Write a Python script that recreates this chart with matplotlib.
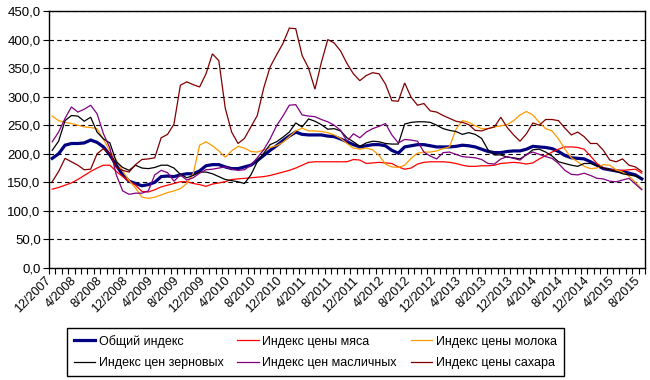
import numpy as np
import matplotlib.pyplot as plt
import matplotlib.transforms as mtransforms

plt.rcParams['font.family'] = ['Liberation Sans', 'DejaVu Sans']

# Месяцы 12/2007 ... 8/2015
months = ['12/2007'] + [f'{m}/{y}' for y in range(2008, 2016) for m in range(1, 13)]
months = months[:93]
tick_labels = months[::4]

# Индексы (2002-2004 = 100)
general = [192, 200, 215, 218, 218, 219, 224, 220, 212, 198, 180, 163, 152, 148, 144, 146,
           150, 160, 161, 160, 163, 165, 165, 170, 179, 181, 181, 177, 174, 174, 177,
           180, 188, 197, 206, 214, 223, 231, 238, 234, 233, 233, 233, 231, 230, 226, 221,
           216, 212, 214, 216, 216, 214, 206, 201, 212, 214, 216, 216, 214, 212, 212, 212,
           213, 215, 214, 212, 208, 204, 202, 202, 204, 205, 205, 208, 213, 212, 211, 209,
           204, 197, 193, 192, 191, 186, 180, 174, 172, 170, 169, 166, 163, 156]
meat = [138, 141, 145, 149, 155, 162, 169, 175, 180, 180, 169, 160, 152, 145, 134, 133,
        137, 142, 145, 148, 151, 151, 148, 146, 143, 147, 149, 151, 155, 156, 157,
        158, 159, 160, 162, 165, 168, 171, 175, 180, 185, 186, 186, 186, 186, 186, 186,
        190, 189, 183, 184, 185, 184, 183, 177, 173, 175, 182, 185, 186, 186, 186, 185,
        183, 180, 178, 178, 179, 179, 180, 183, 184, 185, 184, 182, 184, 191, 197, 203,
        208, 212, 212, 211, 208, 196, 183, 175, 172, 171, 171, 172, 173, 166]
dairy = [266, 258, 255, 253, 250, 247, 246, 244, 225, 205, 189, 170, 153, 140, 124, 122,
         124, 128, 132, 135, 139, 148, 165, 215, 221, 214, 205, 194, 205, 213, 210,
         204, 203, 207, 211, 214, 220, 230, 240, 245, 240, 240, 239, 237, 233, 227, 218,
         210, 208, 210, 207, 197, 182, 177, 176, 180, 192, 201, 203, 203, 205, 209, 212,
         243, 258, 255, 249, 244, 244, 247, 249, 251, 258, 268, 274, 268, 255, 244, 240,
         226, 208, 193, 186, 178, 174, 175, 181, 180, 172, 168, 161, 150, 138]
cereals = [206, 222, 258, 267, 266, 257, 264, 238, 226, 219, 186, 176, 171, 180, 175, 174,
           176, 180, 180, 175, 164, 158, 162, 168, 168, 165, 160, 155, 153, 151, 148,
           163, 186, 201, 216, 221, 229, 238, 254, 247, 261, 257, 251, 243, 244, 240, 228,
           221, 213, 219, 222, 221, 218, 217, 217, 252, 255, 256, 256, 255, 250, 244, 241,
           239, 234, 237, 234, 227, 207, 198, 198, 194, 193, 191, 198, 207, 208, 203, 196,
           186, 183, 180, 178, 183, 183, 179, 175, 172, 169, 165, 163, 161, 157]
oils = [221, 238, 262, 282, 273, 278, 285, 270, 235, 210, 163, 135, 129, 131, 131, 135,
        163, 171, 167, 152, 163, 154, 158, 166, 172, 173, 175, 177, 173, 171, 172,
        180, 193, 207, 226, 249, 266, 285, 286, 268, 266, 265, 260, 256, 250, 241, 222,
        235, 228, 238, 244, 248, 253, 233, 219, 225, 224, 222, 203, 196, 191, 202, 203,
        199, 195, 194, 193, 190, 183, 182, 191, 195, 192, 189, 199, 203, 199, 195, 192,
        183, 171, 164, 163, 166, 162, 157, 156, 152, 151, 154, 157, 147, 137]
sugar = [151, 169, 192, 186, 180, 172, 173, 200, 209, 200, 176, 171, 168, 181, 190, 191,
         193, 228, 234, 252, 320, 326, 321, 317, 340, 375, 363, 280, 238, 218, 227,
         247, 267, 315, 352, 373, 393, 420, 419, 372, 350, 313, 360, 400, 394, 380, 358,
         340, 328, 337, 342, 340, 322, 293, 292, 324, 299, 285, 288, 275, 273, 267, 262,
         257, 255, 251, 241, 240, 244, 247, 264, 246, 233, 222, 235, 254, 250, 260, 260,
         258, 245, 233, 238, 230, 218, 218, 206, 189, 186, 191, 180, 177, 169]

series = [
    ('Общий индекс', general, '#000080', 2.3),
    ('Индекс цены мяса', meat, '#FF0000', 0.9),
    ('Индекс цены молока', dairy, '#FF9900', 0.9),
    ('Индекс цен зерновых', cereals, '#000000', 0.9),
    ('Индекс цен масличных', oils, '#800080', 0.9),
    ('Индекс цены сахара', sugar, '#800000', 0.9),
]

fig = plt.figure(figsize=(6.5, 3.8), dpi=100)
ax = fig.add_axes([49 / 650, 1 - 268 / 380, 596 / 650, 257 / 380])

x = np.arange(len(months))
handles = {}
for name, vals, col, lw in series:
    h, = ax.plot(x, vals, color=col, lw=lw, label=name, solid_joinstyle='miter')
    handles[name] = h

ax.set_xlim(-0.5, len(months) - 0.5)
ax.set_ylim(0, 450)
ax.set_yticks(np.arange(0, 451, 50))
ax.set_yticklabels([f'{v:.1f}'.replace('.', ',') for v in np.arange(0, 451, 50)], fontsize=9.5)
ax.yaxis.grid(True, color='black', lw=0.8, ls=(0, (4, 3)))
ax.set_axisbelow(True)
ax.tick_params(axis='y', length=4, width=0.8, pad=2)

ax.set_xticks(x[::4])
ax.set_xticklabels(tick_labels, rotation=45, ha='right', va='center',
                   rotation_mode='anchor', fontsize=9)
ax.set_xticks(np.arange(-0.5, len(months), 1), minor=True)
ax.tick_params(axis='x', which='major', length=0, pad=8)
ax.tick_params(axis='x', which='minor', length=4, width=0.8)
offset = mtransforms.ScaledTranslation(-3 / 100, 0, fig.dpi_scale_trans)
for lbl in ax.get_xticklabels():
    lbl.set_transform(lbl.get_transform() + offset)

for sp in ax.spines.values():
    sp.set_color('black')
    sp.set_linewidth(1)

# легенда: по строкам, как в оригинале
order = ['Общий индекс', 'Индекс цен зерновых', 'Индекс цены мяса',
         'Индекс цен масличных', 'Индекс цены молока', 'Индекс цены сахара']
leg = fig.legend([handles[n] for n in order], order, ncol=3, loc='upper left',
                 bbox_to_anchor=(67 / 650, 1 - 328 / 380), fontsize=9,
                 frameon=True, fancybox=False, edgecolor='black', framealpha=1,
                 borderaxespad=0, handlelength=1.7, handletextpad=0.3,
                 columnspacing=1.1, labelspacing=0.75, borderpad=0.55)
leg.get_frame().set_linewidth(1)

fig.savefig('out.png', dpi=100)
